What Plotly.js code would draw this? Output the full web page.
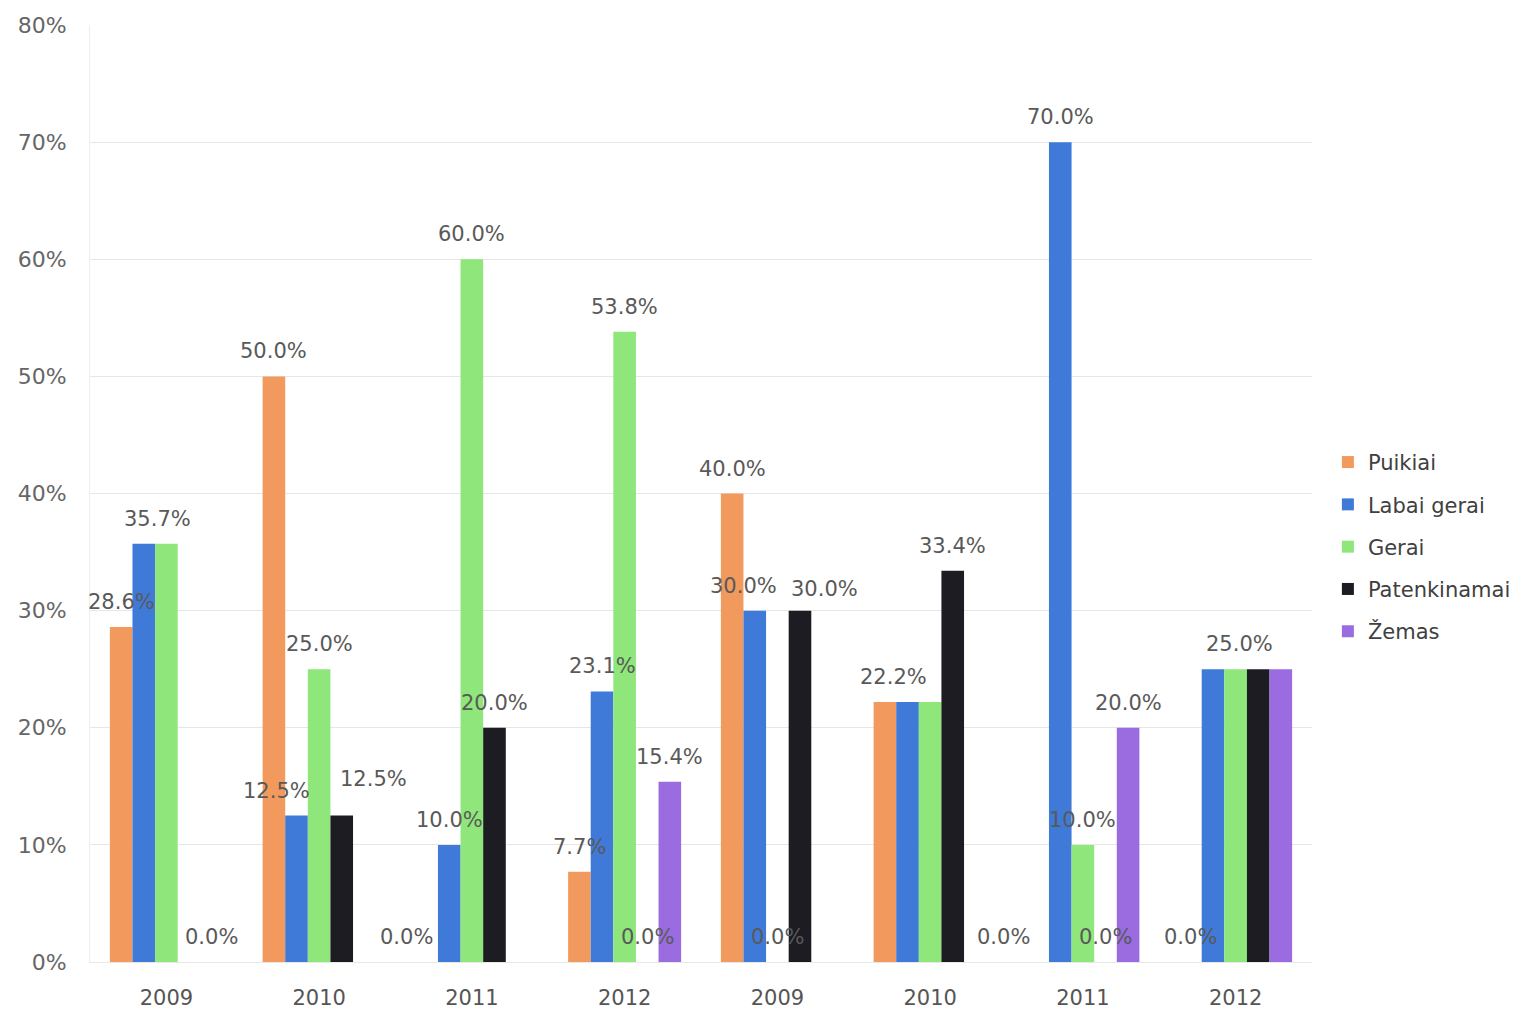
<!DOCTYPE html>
<html>
<head>
<meta charset="utf-8">
<script src="https://cdn.plot.ly/plotly-3.0.1.min.js"></script>
<style>html,body{margin:0;padding:0;background:#fff;}#chart{width:1530px;height:1013px;}</style>
</head>
<body>
<div id="chart"></div>
<script>
const categories = ['2009', '2010', '2011', '2012', '2009', '2010', '2011', '2012'];
const seriesNames = ['Puikiai', 'Labai gerai', 'Gerai', 'Patenkinamai', 'Žemas'];
const puikiai      = [28.6, 50.0, 0.0, 7.7, 40.0, 22.2, 0.0, 0.0];
const labaiGerai   = [35.7, 12.5, 10.0, 23.1, 30.0, 22.2, 70.0, 25.0];
const gerai        = [35.7, 25.0, 60.0, 53.8, 0.0, 22.2, 10.0, 25.0];
const patenkinamai = [0.0, 12.5, 20.0, 0.0, 30.0, 33.4, 0.0, 25.0];
const zemas        = [0.0, 0.0, 0.0, 15.4, 0.0, 0.0, 20.0, 25.0];
// which data labels are visible in the reference (1 = shown)
const showPuikiai      = [1, 1, 1, 1, 1, 0, 0, 1];
const showLabaiGerai   = [1, 1, 1, 1, 1, 1, 1, 0];
const showGerai        = [0, 1, 1, 1, 1, 0, 1, 1];
const showPatenkinamai = [0, 1, 1, 1, 1, 1, 1, 0];
const showZemas        = [1, 0, 0, 1, 0, 1, 1, 0];
const yTickVals = [0, 10, 20, 30, 40, 50, 60, 70, 80];

const values = [puikiai, labaiGerai, gerai, patenkinamai, zemas];
const shows = [showPuikiai, showLabaiGerai, showGerai, showPatenkinamai, showZemas];
const colors = ['#F29A5E', '#3F7AD9', '#8FE67A', '#1C1C22', '#9A6CE0'];
const xIdx = categories.map((c, i) => i);
const BARGAP = 0.26;
const FONT = 'DejaVu Sans, Arial, sans-serif';

// label nudges (style only): key "series,category" -> [dx px, dy px]
const labelNudge = {
  '1,0': [14, 0], '1,1': [-20, 0], '3,1': [32, 12], '0,2': [-20, 0],
  '1,4': [-11, 0], '3,4': [25, -3], '1,5': [-14, 0], '4,5': [28, 0], '2,7': [4, 0]
};

const traces = values.map((vals, s) => ({
  type: 'bar',
  name: seriesNames[s],
  legendgroup: 'g' + s,
  x: xIdx,
  y: vals,
  marker: {color: colors[s]},
  hoverinfo: 'x+y'
}));

const barW = (1 - BARGAP) / values.length;
const annotations = [];
values.forEach((vals, s) => {
  vals.forEach((v, i) => {
    if (!shows[s][i]) return;
    const n = labelNudge[s + ',' + i] || [0, 0];
    annotations.push({
      xref: 'x', yref: 'y',
      x: i + (s - (values.length - 1) / 2) * barW,
      y: v,
      text: v.toFixed(1) + '%',
      showarrow: false,
      xanchor: 'center', yanchor: 'middle',
      xshift: n[0], yshift: 25 + n[1],
      font: {family: FONT, size: 21, color: '#595959'}
    });
  });
});

const layout = {
  width: 1530,
  height: 1013,
  margin: {l: 90, r: 218, t: 25, b: 51, autoexpand: false},
  paper_bgcolor: '#ffffff',
  plot_bgcolor: '#ffffff',
  barmode: 'group',
  bargap: BARGAP,
  bargroupgap: 0,
  showlegend: true,
  annotations: annotations,
  legend: {
    x: 1.013, xanchor: 'left', y: 0.443, yanchor: 'middle',
    font: {family: FONT, size: 21, color: '#404040'},
    itemwidth: 30,
    tracegroupgap: 12,
    traceorder: 'grouped'
  },
  xaxis: {
    tickmode: 'array',
    tickvals: xIdx,
    ticktext: categories,
    range: [-0.5, categories.length - 0.5],
    showgrid: false,
    zeroline: false,
    showline: true,
    linecolor: '#e8e8e8',
    linewidth: 1,
    ticks: '',
    tickfont: {family: FONT, size: 21, color: '#555555'},
    ticklabelstandoff: 17
  },
  yaxis: {
    range: [0, 80],
    tickmode: 'array',
    tickvals: yTickVals,
    ticktext: yTickVals.map(v => v + '%'),
    showgrid: true,
    gridcolor: '#e6e6e6',
    gridwidth: 1,
    zeroline: false,
    showline: true,
    linecolor: '#eeeeee',
    ticks: '',
    tickfont: {family: FONT, size: 22, color: '#666666'},
    ticklabelstandoff: 18
  }
};

Plotly.newPlot('chart', traces, layout, {displayModeBar: false, staticPlot: true});
</script>
</body>
</html>
